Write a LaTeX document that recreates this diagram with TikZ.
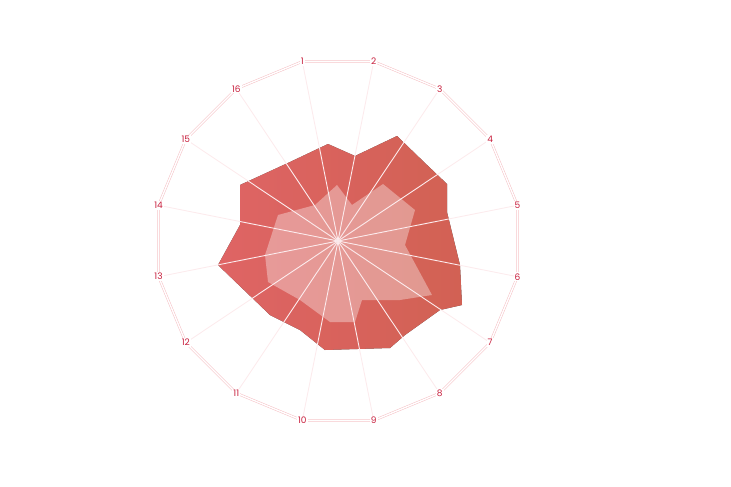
\documentclass[tikz,border=0pt]{standalone}
\usepackage{fontspec}
\setsansfont{Poppins}
\usetikzlibrary{positioning,calc}
\definecolor{labred}{RGB}{200,30,60}
\definecolor{rimpink}{RGB}{245,190,195}
\tikzset{spoke/.style={draw=white!70!rimpink,line width=0.9pt},
  rim/.style={draw=rimpink,double=white,double distance=1.4pt,line width=0.5pt},
  numlabel/.style={fill=white,inner sep=1pt,text=labred,font=\sffamily\fontsize{9}{9}\selectfont}}
\begin{document}
\begin{tikzpicture}[x=1pt,y=-1pt]
  \useasboundingbox (0,0) rectangle (731,487);
  \coordinate (c) at (338,241);

  % outer shape
  \fill[left color=red!50!pink!90,right color=red!60!brown!60!pink,opacity=0.85]
    (328,144) -- (355,156) -- (397,136) -- (427,165) -- (447,184) -- (447,212)
    -- (460,265) -- (462,305) -- (440,310) -- (405,335) -- (390,348) -- (325,350)
    -- (300,330) -- (270,315) -- (218,265) -- (240,225) -- (240,185) -- (290,162) -- cycle;
  % inner shape
  \fill[white,opacity=0.35]
    (337,185) -- (352,205) -- (383,184) -- (415,210) -- (405,245) -- (432,295)
    -- (400,300) -- (362,300) -- (355,322) -- (330,322) -- (300,300) -- (268,282)
    -- (265,255) -- (278,215) -- (315,205) -- cycle;

  % spokes, rim and numbers
  \foreach \k in {1,...,16}
    \coordinate (p\k) at ($(c)+({-101.25+22.5*(\k-1)}:183)$);
  \draw[rim] (p1) -- (p2) -- (p3) -- (p4) -- (p5) -- (p6) -- (p7) -- (p8)
    -- (p9) -- (p10) -- (p11) -- (p12) -- (p13) -- (p14) -- (p15) -- (p16) -- cycle;
  \foreach \k in {1,...,16} \draw[spoke] (c) -- (p\k);
  \foreach \k in {1,...,16} \node[numlabel] (n\k) at (p\k) {\k};
\end{tikzpicture}
\end{document}
